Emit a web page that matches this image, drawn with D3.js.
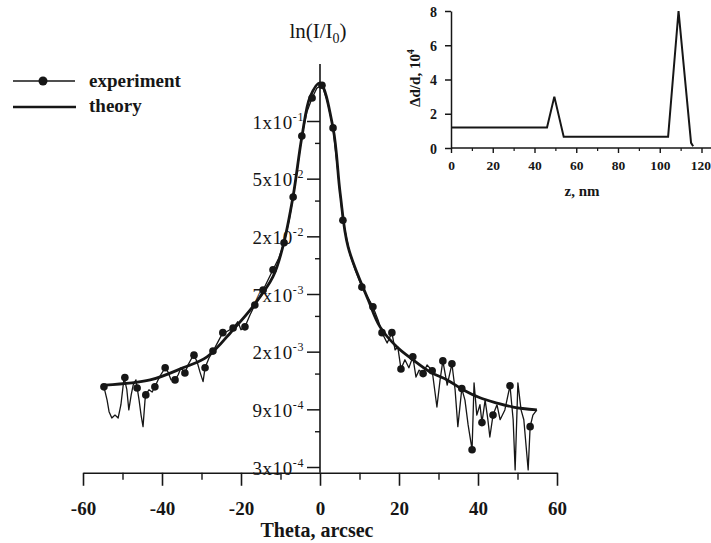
<!DOCTYPE html>
<html>
<head>
<meta charset="utf-8">
<script src="https://cdn.jsdelivr.net/npm/d3@7"></script>
<style>
  body { margin: 0; background: #fff; }
  svg { display: block; font-family: 'Liberation Serif', 'Times New Roman', serif; }
</style>
</head>
<body>
<svg width="711" height="543"></svg>
<script>
// main plot: x = Theta (arcsec), y = position on the ln(I/I0) axis,
// counted in tick steps downward from the 1x10^-1 tick
const xTicks = [-60, -40, -20, 0, 20, 40, 60];
const xMinorTicks = [-50, -30, -10, 10, 30, 50];
const yTicks = [0, 1, 2, 3, 4, 5, 6];
const yMinorTicks = [0.38, 1.38, 2.38, 3.38, 4.38, 5.38];
const yTickMant = ['1', '5', '2', '7', '2', '9', '3'];
const yTickExp = ['-1', '-2', '-2', '-3', '-3', '-4', '-4'];

const theory = [
  [-54.4, 4.58], [-43.0, 4.49], [-34.7, 4.28], [-28.6, 4.09], [-22.0, 3.62],
  [-17.0, 3.22], [-11.9, 2.70], [-9.4, 2.18], [-6.8, 1.30], [-4.6, 0.28],
  [-2.5, -0.42], [0, -0.66], [3.3, 0.12], [5.1, 1.25], [7.1, 2.18],
  [12.2, 3.10], [15.2, 3.57], [19.5, 3.92], [23.5, 4.14], [27.8, 4.35],
  [32.2, 4.49], [36.2, 4.66], [40.5, 4.80], [44.8, 4.89], [48.9, 4.96], [54.9, 5.01]
];

const experiment = [
  [-54.7, 4.61], [-53.9, 4.84], [-53.4, 5.04], [-52.7, 5.15], [-51.9, 5.10], [-51.1, 5.15],
  [-50.4, 4.92], [-49.6, 4.45], [-48.9, 4.66], [-48.4, 5.01], [-47.8, 4.75], [-47.3, 4.58],
  [-46.6, 4.49], [-45.8, 4.84], [-45.3, 5.10], [-44.8, 5.30], [-44.3, 4.84], [-44.1, 4.75],
  [-43.3, 4.66], [-42.5, 4.70], [-41.8, 4.61], [-41.0, 4.49], [-40.3, 4.40], [-39.2, 4.28],
  [-38.5, 4.35], [-37.7, 4.49], [-36.7, 4.49], [-35.9, 4.40], [-35.2, 4.28], [-34.2, 4.37],
  [-33.4, 4.23], [-32.7, 4.14], [-31.9, 4.06], [-31.1, 4.18], [-30.4, 4.35], [-29.6, 4.52],
  [-29.1, 4.28], [-28.1, 4.11], [-27.1, 3.99], [-26.6, 3.93], [-25.6, 3.80], [-24.6, 3.67],
  [-23.8, 3.66], [-22.8, 3.62], [-22.0, 3.59], [-20.8, 3.48], [-20.0, 3.62], [-19.0, 3.57],
  [-17.7, 3.36], [-16.5, 3.19], [-15.4, 3.07], [-14.4, 2.93], [-13.2, 2.76], [-11.9, 2.58],
  [-10.4, 2.37], [-9.1, 2.11], [-7.8, 1.72], [-6.8, 1.32], [-5.6, 0.76], [-4.6, 0.26],
  [-3.3, -0.16], [-2.0, -0.40], [-0.8, -0.57], [0.5, -0.62], [1.8, -0.36], [3.3, 0.12],
  [4.6, 0.94], [5.8, 1.72], [7.6, 2.32], [8.9, 2.58], [10.6, 2.88], [12.2, 3.07],
  [13.4, 3.22], [14.7, 3.45], [15.7, 3.67], [17.0, 3.85], [18.2, 3.67], [19.0, 3.97],
  [19.7, 3.92], [20.5, 4.30], [21.5, 4.14], [22.5, 4.28], [23.5, 4.09], [24.3, 4.44],
  [25.1, 4.32], [26.1, 4.38], [27.1, 4.23], [28.4, 4.33], [29.6, 4.96], [30.4, 4.49],
  [31.1, 4.16], [32.2, 4.58], [33.4, 4.21], [34.2, 4.66], [34.9, 5.30], [35.9, 4.64],
  [36.7, 4.84], [37.5, 5.27], [38.5, 5.70], [39.0, 4.54], [39.7, 5.10], [40.5, 4.92],
  [41.0, 5.23], [41.8, 4.84], [42.5, 5.18], [43.0, 5.48], [43.8, 5.10], [44.8, 4.92],
  [45.6, 5.18], [46.8, 5.01], [48.1, 4.59], [48.9, 5.18], [49.4, 6.05], [50.1, 4.54],
  [50.9, 5.01], [51.6, 5.18], [52.7, 6.05], [53.2, 5.30], [53.9, 5.10], [54.9, 5.01]
];

const experimentDots = [
  [-54.7, 4.61], [-49.4, 4.45], [-46.3, 4.63], [-44.1, 4.75], [-41.8, 4.61], [-39.2, 4.28],
  [-36.7, 4.49], [-34.2, 4.37], [-31.9, 4.06], [-29.1, 4.28], [-27.1, 3.99], [-24.6, 3.67],
  [-22.0, 3.59], [-19.0, 3.57], [-16.5, 3.19], [-14.4, 2.93], [-11.9, 2.58], [-9.1, 2.11],
  [-6.8, 1.32], [-4.6, 0.26], [-2.0, -0.40], [0.5, -0.62], [3.3, 0.12], [5.8, 1.72],
  [10.6, 2.88], [13.4, 3.22], [15.7, 3.67], [18.2, 3.67], [20.5, 4.30], [23.5, 4.09],
  [26.1, 4.38], [28.4, 4.33], [31.1, 4.16], [33.4, 4.21], [35.9, 4.64], [38.5, 5.70],
  [41.0, 5.23], [43.8, 5.10], [48.1, 4.59], [53.2, 5.30]
];

// inset: z (nm) vs delta d / d, 10^-4
const zTicks = [0, 20, 40, 60, 80, 100, 120];
const zMinorTicks = [10, 30, 50, 70, 90, 110];
const strainTicks = [0, 2, 4, 6, 8];
const strainProfile = [
  [0, 1.2], [46, 1.2], [49.5, 3.0], [54, 0.65], [104, 0.65], [109, 8.0], [115, 0.3], [116, 0.1]
];

const ink = '#161616';
const svg = d3.select('svg');

const render = () => {
  // ---------- main plot ----------
  const xScale = d3.scaleLinear().domain([-60, 60]).range([83, 557]);
  const yScale = d3.scaleLinear().domain([0, 6]).range([121, 467]);
  const yTop = -0.99;
  const yBottom = 6.1;

  const g = svg.append('g');

  // x axis
  const xAxisG = g.append('g')
    .attr('transform', `translate(0,${yScale(yBottom)})`)
    .call(d3.axisBottom(xScale)
      .tickValues(xTicks)
      .tickSize(13)
      .tickSizeOuter(0)
      .tickFormat(d => String(d)));
  xAxisG.attr('font-family', null);
  xAxisG.selectAll('text')
    .attr('y', 42).attr('dy', 0)
    .attr('font-size', 19).attr('font-weight', 'bold')
    .attr('fill', ink);
  xAxisG.selectAll('line, path').attr('stroke', ink).attr('stroke-width', 1.6);

  const xMinorG = g.append('g')
    .attr('transform', `translate(0,${yScale(yBottom)})`)
    .call(d3.axisBottom(xScale).tickValues(xMinorTicks).tickSize(7).tickFormat(''));
  xMinorG.select('.domain').remove();
  xMinorG.selectAll('line').attr('stroke', ink).attr('stroke-width', 1.4);

  g.append('text')
    .text('Theta, arcsec')
    .attr('x', 317).attr('y', 537)
    .attr('text-anchor', 'middle')
    .attr('font-size', 20).attr('font-weight', 'bold')
    .attr('fill', ink);

  // y axis at theta = 0
  const yAxisG = g.append('g')
    .attr('transform', `translate(${xScale(0)},0)`)
    .call(d3.axisLeft(yScale).tickValues(yTicks).tickSize(13).tickFormat(''));
  yAxisG.attr('font-family', null);
  yAxisG.select('.domain').remove();
  yAxisG.selectAll('line').attr('stroke', ink).attr('stroke-width', 1.5);
  yAxisG.append('line')
    .attr('y1', yScale(yTop)).attr('y2', yScale(yBottom))
    .attr('stroke', ink).attr('stroke-width', 1.6);
  yAxisG.selectAll('.tick text').each(function (d, i) {
    const t = d3.select(this)
      .text(null)
      .attr('x', -16).attr('dy', 7)
      .attr('font-size', 19).attr('fill', ink)
      .attr('letter-spacing', 0.6);
    t.append('tspan').text(yTickMant[i] + 'x10');
    t.append('tspan').attr('dy', -8).attr('font-size', 12).text(yTickExp[i]);
  });

  const yMinorG = g.append('g')
    .attr('transform', `translate(${xScale(0)},0)`)
    .call(d3.axisLeft(yScale).tickValues(yMinorTicks).tickSize(5).tickFormat(''));
  yMinorG.select('.domain').remove();
  yMinorG.selectAll('line').attr('stroke', ink).attr('stroke-width', 1.4);

  // axis title
  const title = g.append('text')
    .attr('x', 318).attr('y', 38)
    .attr('text-anchor', 'middle')
    .attr('font-size', 21).attr('fill', ink);
  title.append('tspan').text('ln(I/I');
  title.append('tspan').attr('dy', 5).attr('font-size', 14).text('0');
  title.append('tspan').attr('dy', -5).text(')');

  const line = d3.line()
    .x(d => xScale(d[0]))
    .y(d => yScale(d[1]));

  g.append('path')
    .datum(experiment)
    .attr('d', line)
    .attr('fill', 'none')
    .attr('stroke', ink)
    .attr('stroke-width', 1.3)
    .attr('stroke-linejoin', 'round');

  g.append('path')
    .datum(theory)
    .attr('d', line.curve(d3.curveCatmullRom))
    .attr('fill', 'none')
    .attr('stroke', ink)
    .attr('stroke-width', 2.8);

  g.selectAll('circle.dot')
    .data(experimentDots)
    .enter()
    .append('circle')
    .attr('class', 'dot')
    .attr('cx', d => xScale(d[0]))
    .attr('cy', d => yScale(d[1]))
    .attr('r', 3.8)
    .attr('fill', ink);

  // legend
  const legend = g.append('g');
  legend.append('line')
    .attr('x1', 13).attr('x2', 75).attr('y1', 81).attr('y2', 81)
    .attr('stroke', ink).attr('stroke-width', 1.4);
  legend.append('circle')
    .attr('cx', 43).attr('cy', 81).attr('r', 4.5).attr('fill', ink);
  legend.append('line')
    .attr('x1', 13).attr('x2', 76).attr('y1', 107).attr('y2', 107)
    .attr('stroke', ink).attr('stroke-width', 2.6);
  legend.append('text').text('experiment')
    .attr('x', 89).attr('y', 87)
    .attr('font-size', 19).attr('font-weight', 'bold').attr('fill', ink);
  legend.append('text').text('theory')
    .attr('x', 89).attr('y', 112)
    .attr('font-size', 19).attr('font-weight', 'bold').attr('fill', ink);

  // ---------- inset ----------
  const zScale = d3.scaleLinear().domain([0, 120]).range([451, 701.5]);
  const sScale = d3.scaleLinear().domain([0, 8]).range([148, 11]);

  const inset = svg.append('g');

  const zAxisG = inset.append('g')
    .attr('transform', `translate(0,${sScale(0)})`)
    .call(d3.axisBottom(zScale).tickValues(zTicks).tickSize(5).tickFormat(d => String(d)));
  zAxisG.attr('font-family', null);
  zAxisG.select('.domain').remove();
  zAxisG.append('line')
    .attr('x1', zScale(0)).attr('x2', zScale(125));
  zAxisG.selectAll('line').attr('stroke', ink).attr('stroke-width', 1.4);
  zAxisG.selectAll('text')
    .attr('y', 22).attr('dy', 0)
    .attr('font-size', 13.5).attr('font-weight', 'bold').attr('fill', ink);
  zAxisG.selectAll('.tick text').filter(d => d === 120)
    .attr('text-anchor', 'end').attr('x', 9);

  const zMinorG = inset.append('g')
    .attr('transform', `translate(0,${sScale(0)})`)
    .call(d3.axisBottom(zScale).tickValues(zMinorTicks).tickSize(3).tickFormat(''));
  zMinorG.select('.domain').remove();
  zMinorG.selectAll('line').attr('stroke', ink).attr('stroke-width', 1.2);

  const sAxisG = inset.append('g')
    .attr('transform', `translate(${zScale(0)},0)`)
    .call(d3.axisLeft(sScale).tickValues(strainTicks).tickSize(6).tickSizeOuter(0).tickFormat(d => String(d)));
  sAxisG.attr('font-family', null);
  sAxisG.selectAll('line, path').attr('stroke', ink).attr('stroke-width', 1.5);
  sAxisG.selectAll('text')
    .attr('x', -14).attr('dy', '0.36em')
    .attr('font-size', 14).attr('font-weight', 'bold').attr('fill', ink);

  inset.append('text').text('z, nm')
    .attr('x', 582).attr('y', 196)
    .attr('text-anchor', 'middle')
    .attr('font-size', 15).attr('font-weight', 'bold').attr('fill', ink);

  const sTitle = inset.append('text')
    .attr('transform', 'translate(420,78) rotate(-90)')
    .attr('text-anchor', 'middle')
    .attr('font-size', 15).attr('font-weight', 'bold').attr('fill', ink);
  sTitle.append('tspan').text('\u0394d/d, 10');
  sTitle.append('tspan').attr('dy', -6).attr('font-size', 10).text('4');

  const sLine = d3.line()
    .x(d => zScale(d[0]))
    .y(d => sScale(d[1]));

  inset.append('path')
    .datum(strainProfile)
    .attr('d', sLine)
    .attr('fill', 'none')
    .attr('stroke', ink)
    .attr('stroke-width', 2);
};

render();
</script>
</body>
</html>
